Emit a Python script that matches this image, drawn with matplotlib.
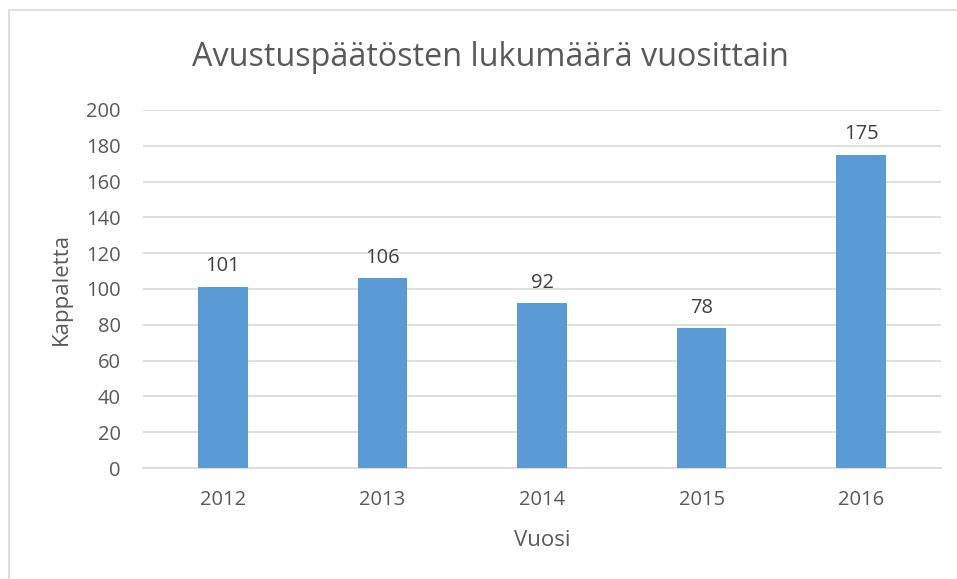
import matplotlib
matplotlib.use("Agg")
import matplotlib.pyplot as plt
from matplotlib.patches import Rectangle

years = ["2012", "2013", "2014", "2015", "2016"]
counts = [101, 106, 92, 78, 175]
yticks = [0, 20, 40, 60, 80, 100, 120, 140, 160, 180, 200]

plt.rcParams['font.family'] = ['Open Sans', 'DejaVu Sans']
txt = '#595959'

fig = plt.figure(figsize=(9.57, 5.79), dpi=100)
fig.patches.append(Rectangle((9/957, -0.1), 1.2, 1 - 10/579 + 0.1, transform=fig.transFigure,
                             fill=False, edgecolor='#D9D9D9', linewidth=1.2))
ax = fig.add_axes([143/957, 1 - 468/579, (941 - 143)/957, (468 - 110)/579])
x = list(range(len(years)))
bars = ax.bar(x, counts, width=0.31, color='#5B9BD5', zorder=3)
for xi, v in zip(x, counts):
    ax.text(xi, v + 6, str(v), ha='center', va='bottom', fontsize=14.5, color='#404040')
ax.set_xlim(-0.5, len(years) - 0.5)
ax.set_ylim(0, 200)
ax.set_yticks(yticks)
ax.set_xticks(x)
ax.set_xticklabels(years)
ax.yaxis.grid(True, color='#D9D9D9', linewidth=1.2, zorder=0)
for s in ['top', 'right', 'left']:
    ax.spines[s].set_visible(False)
ax.spines['bottom'].set_color('#D9D9D9')
ax.spines['bottom'].set_linewidth(1.2)
ax.tick_params(axis='both', length=0, labelsize=14.5, labelcolor=txt)
ax.tick_params(axis='y', pad=16)
ax.tick_params(axis='x', pad=16)
ax.set_xlabel('Vuosi', fontsize=16, color=txt, labelpad=14)
ax.set_ylabel('Kappaletta', fontsize=16, color=txt, labelpad=10)
fig.text(490/957, 1 - 57/579, 'Avustuspäätösten lukumäärä vuosittain', ha='center', va='center',
         fontsize=23.3, color=txt)
fig.savefig('out.png', dpi=100)
